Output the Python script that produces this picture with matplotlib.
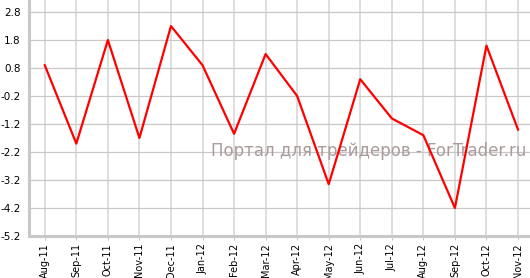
import matplotlib
matplotlib.use("Agg")
import matplotlib.pyplot as plt

months = ["Aug-11", "Sep-11", "Oct-11", "Nov-11", "Dec-11", "Jan-12", "Feb-12", "Mar-12",
          "Apr-12", "May-12", "Jun-12", "Jul-12", "Aug-12", "Sep-12", "Oct-12", "Nov-12"]
values = [0.9, -1.9, 1.8, -1.7, 2.3, 0.9, -1.55, 1.3,
          -0.2, -3.35, 0.4, -1.0, -1.6, -4.2, 1.6, -1.4]
y_ticks = [2.8, 1.8, 0.8, -0.2, -1.2, -2.2, -3.2, -4.2, -5.2]

fig = plt.figure(figsize=(5.3, 2.78), dpi=100)
ax = fig.add_axes([29 / 530, 42 / 278, 1 - 29 / 530, 1 - 42 / 278])

x = list(range(len(months)))
ax.plot(x, values, color="#ff0000", linewidth=1.6, zorder=4)

ax.set_xlim(-0.5, len(months) - 1 + 0.38)
ax.set_ylim(-5.2, 3.23)
ax.set_xticks(x)
ax.set_xticklabels(months, rotation=90, fontsize=7)
ax.set_yticks(y_ticks)
ax.set_yticklabels(["%.1f" % v for v in y_ticks], fontsize=7.5)

ax.grid(axis="y", color="#c8c8c8", linewidth=0.9)
ax.grid(axis="x", color="#dedede", linewidth=1.4)
ax.set_axisbelow(True)

for s in ["top", "right"]:
    ax.spines[s].set_visible(False)
for s in ["left", "bottom"]:
    ax.spines[s].set_color("#c8c8c8")
    ax.spines[s].set_linewidth(2.2)
ax.tick_params(axis="x", length=3, color="#c8c8c8", pad=2)
ax.tick_params(axis="y", length=0, pad=6)

# watermark sits under the line
ax.text(0.992, 0.36, "Портал для трейдеров - ForTrader.ru", transform=ax.transAxes,
        ha="right", va="center", fontsize=12, color="#ab9b9b", zorder=3)

fig.savefig("out.png", dpi=100)
